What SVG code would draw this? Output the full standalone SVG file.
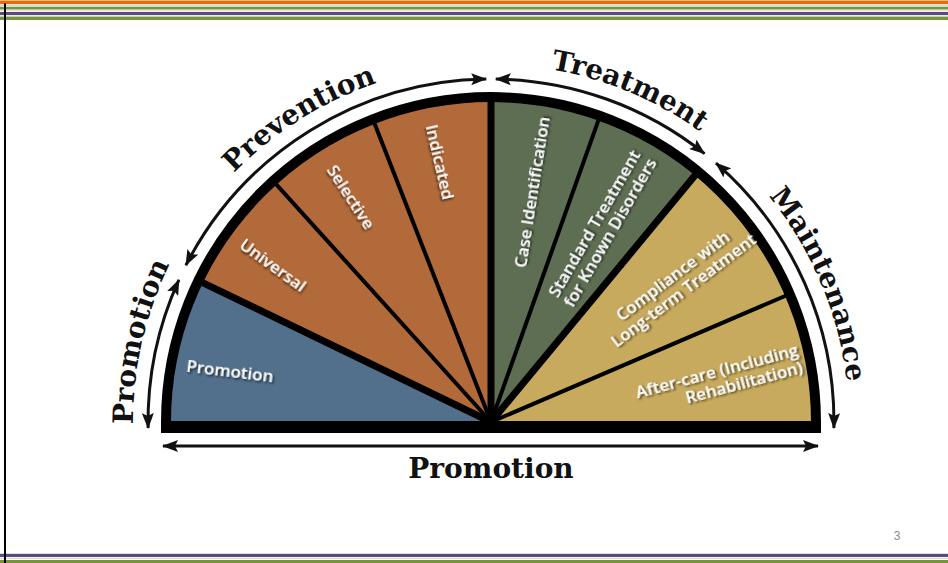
<svg xmlns="http://www.w3.org/2000/svg" width="948" height="563" viewBox="0 0 948 563">
  <defs>
    <style>
      .arc-label { font-family: "DejaVu Serif", "Liberation Serif", serif; font-weight: bold; font-size: 28px; fill: #111; }
      .seg-label { font-family: "Open Sans", "Noto Sans", sans-serif; font-weight: 600; font-size: 17px; fill: #fff; filter: url(#textShadow); }
      .arrow { fill: none; stroke: #111; stroke-width: 3; marker-start: url(#head); marker-end: url(#head); }
      .div-thin { stroke: #000; stroke-width: 4; }
      .div-thick { stroke: #000; stroke-width: 7; }
    </style>
    <filter id="textShadow" x="-20%" y="-40%" width="140%" height="180%">
      <feDropShadow dx="1.5" dy="1.5" stdDeviation="1" flood-color="#000" flood-opacity="0.75"/>
    </filter>
    <marker id="head" viewBox="0 0 16 12" refX="15" refY="6" markerWidth="16" markerHeight="12" markerUnits="userSpaceOnUse" orient="auto-start-reverse">
      <path d="M0,0 L16,6 L0,12 L3,6 Z" fill="#111"/>
    </marker>
    <!-- baseline circle for the curved stage titles, centre (491,422), r 358 -->
    <path id="labelArc" d="M 138.4 484.2 A 358 358 0 1 1 843.6 484.2"/>
  </defs>

  <rect width="948" height="563" fill="#fff"/>

  <!-- page frame stripes -->
  <g id="frame">
    <rect x="0" y="0.5" width="948" height="3.5" fill="#e46c0a"/>
    <rect x="0" y="4.5" width="948" height="1.2" fill="#c9c9c0"/>
    <rect x="0" y="6.7" width="948" height="2.8" fill="#77933c"/>
    <rect x="0" y="10.3" width="948" height="1" fill="#d6d6d6"/>
    <rect x="0" y="12" width="948" height="3" fill="#604a7b"/>
    <rect x="0" y="15.5" width="948" height="1" fill="#d6d6d6"/>
    <rect x="0" y="16.7" width="948" height="3.3" fill="#77933c"/>
    <rect x="0" y="553.8" width="948" height="3.2" fill="#604a7b"/>
    <rect x="0" y="557.8" width="948" height="1.2" fill="#d6d6d6"/>
    <rect x="0" y="560" width="948" height="3" fill="#77933c"/>
    <rect x="4" y="3.5" width="2" height="560" fill="#000"/>
    <text x="897" y="540" font-family="Liberation Sans, Arial, sans-serif" font-size="12" fill="#8a8a8a" text-anchor="middle">3</text>
  </g>

  <!-- half-dial segments -->
  <g id="seg-promotion"><path d="M491 422 L170 422 A321 321 0 0 1 202.0 282.3 Z" fill="#52708c"/></g>
  <g id="seg-universal"><path d="M491 422 L202.0 282.3 A321 321 0 0 1 275.8 183.8 Z" fill="#b36a3a"/></g>
  <g id="seg-selective"><path d="M491 422 L275.8 183.8 A321 321 0 0 1 374.4 122.9 Z" fill="#b36a3a"/></g>
  <g id="seg-indicated"><path d="M491 422 L374.4 122.9 A321 321 0 0 1 491 101 Z" fill="#b36a3a"/></g>
  <g id="seg-case"><path d="M491 422 L491 101 A321 321 0 0 1 598.7 119.6 Z" fill="#5e6e53"/></g>
  <g id="seg-standard"><path d="M491 422 L598.7 119.6 A321 321 0 0 1 695.6 174.7 Z" fill="#5e6e53"/></g>
  <g id="seg-compliance"><path d="M491 422 L695.6 174.7 A321 321 0 0 1 786.0 295.6 Z" fill="#c8aa5e"/></g>
  <g id="seg-aftercare"><path d="M491 422 L786.0 295.6 A321 321 0 0 1 812 422 Z" fill="#c8aa5e"/></g>

  <!-- dividers and rim -->
  <g id="dial-rim">
    <line class="div-thick" x1="491" y1="422" x2="198.4" y2="280.6"/>
    <line class="div-thin" x1="491" y1="422" x2="273.1" y2="180.8"/>
    <line class="div-thin" x1="491" y1="422" x2="372.9" y2="119.2"/>
    <line class="div-thick" x1="491" y1="422" x2="491" y2="97"/>
    <line class="div-thin" x1="491" y1="422" x2="600.0" y2="115.8"/>
    <line class="div-thick" x1="491" y1="422" x2="698.2" y2="171.6"/>
    <line class="div-thin" x1="491" y1="422" x2="789.7" y2="294.0"/>
    <path d="M166 422 A325 325 0 0 1 816 422" fill="none" stroke="#000" stroke-width="10"/>
    <rect x="161" y="421" width="660" height="12" fill="#000"/>
  </g>

  <!-- segment labels -->
  <g id="labels">
    <text class="seg-label" text-anchor="middle" transform="translate(230,371) rotate(7)" dy="6">Promotion</text>
    <text class="seg-label" text-anchor="middle" transform="translate(273,265) rotate(36)" dy="6">Universal</text>
    <text class="seg-label" text-anchor="middle" transform="translate(351,197) rotate(57)" dy="6">Selective</text>
    <text class="seg-label" text-anchor="middle" transform="translate(440,162) rotate(77)" dy="6">Indicated</text>
    <text class="seg-label" text-anchor="middle" transform="translate(532,192) rotate(-81)" dy="6">Case Identification</text>
    <g transform="translate(602,228) rotate(-60)">
      <text class="seg-label" text-anchor="middle" y="-3">Standard Treatment</text>
      <text class="seg-label" text-anchor="middle" y="15">for Known Disorders</text>
    </g>
    <g transform="translate(678,283) rotate(-37)">
      <text class="seg-label" text-anchor="middle" y="-3">Compliance with</text>
      <text class="seg-label" text-anchor="middle" y="15">Long-term Treatment</text>
    </g>
    <g transform="translate(800,358) rotate(-15)">
      <text class="seg-label" text-anchor="end" y="-3">After-care (Including</text>
      <text class="seg-label" text-anchor="end" y="15">Rehabilitation)</text>
    </g>
  </g>

  <!-- stage span arrows -->
  <g id="connectors">
    <path class="arrow" d="M148.1 428.0 A343 343 0 0 1 178.9 279.8"/>
    <path class="arrow" d="M185.9 265.2 A343 343 0 0 1 486.2 79.0"/>
    <path class="arrow" d="M495.8 79.0 A343 343 0 0 1 704.5 153.6"/>
    <path class="arrow" d="M716.0 163.1 A343 343 0 0 1 833.9 428.0"/>
    <path class="arrow" d="M163 446 L818 446"/>
  </g>

  <!-- stage titles -->
  <g id="stage-titles">
    <text class="arc-label" text-anchor="middle"><textPath href="#labelArc" startOffset="143">Promotion</textPath></text>
    <text class="arc-label" text-anchor="middle"><textPath href="#labelArc" startOffset="423">Prevention</textPath></text>
    <text class="arc-label" text-anchor="middle"><textPath href="#labelArc" startOffset="766">Treatment</textPath></text>
    <text class="arc-label" text-anchor="middle"><textPath href="#labelArc" startOffset="1044">Maintenance</textPath></text>
    <text class="arc-label" x="491" y="478" text-anchor="middle" font-size="27">Promotion</text>
  </g>
</svg>
